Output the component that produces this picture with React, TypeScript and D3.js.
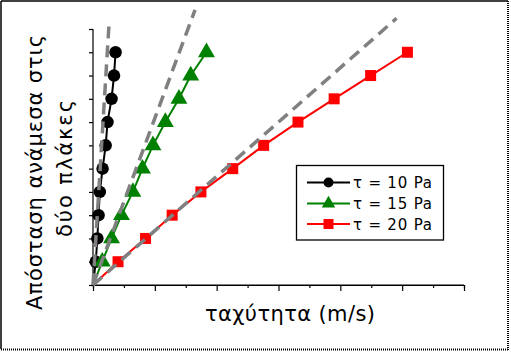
import { useEffect, useRef } from "react";
import * as d3 from "d3";

// distance levels (same for all three series), 0 = origin
const distances = [0, 1, 2, 3, 4, 5, 6, 7, 8, 9, 10];

// velocity for each stress
const speed10 = [0, 0.09, 0.14, 0.18, 0.22, 0.31, 0.41, 0.47, 0.6, 0.68, 0.73];
const speed15 = [0, 0.3, 0.6, 0.92, 1.29, 1.6, 1.94, 2.34, 2.78, 3.16, 3.67];
const speed20 = [0, 0.81, 1.7, 2.56, 3.49, 4.52, 5.52, 6.63, 7.8, 8.98, 10.17];

// gray dashed reference lines, from the origin to [x, y]
const refEnds: [number, number][] = [
  [0.527, 11.39],
  [3.3, 11.82],
  [9.82, 11.46],
];

const seriesLabels = ["τ = 10 Pa", "τ = 15 Pa", "τ = 20 Pa"];
const seriesColors = ["#000000", "#008000", "#ff0000"];
const seriesShapes = ["circle", "triangle", "square"];

const yTitleLines = ["Απόσταση ανάμεσα στις", "δύο πλάκες"];
const xTitle = "ταχύτητα  (m/s)";

const FONT = "'DejaVu Sans', sans-serif";

const App = () => {
  const svgRef = useRef<SVGSVGElement>(null);

  useEffect(() => {
    const svg = d3.select(svgRef.current);
    svg.selectAll("*").remove();

    const x = d3.scaleLinear().domain([0, 12]).range([93, 464]);
    const y = d3.scaleLinear().domain([0, 11]).range([285, 29]);

    // 1) outer frame
    svg.append("rect").attr("x", 0).attr("y", 0).attr("width", 511).attr("height", 352).attr("fill", "#fff");
    svg.append("line").attr("x1", 1).attr("y1", 1).attr("x2", 508).attr("y2", 1).attr("stroke", "#000").attr("stroke-width", 1.5);
    svg.append("line").attr("x1", 1).attr("y1", 1).attr("x2", 1).attr("y2", 349).attr("stroke", "#000").attr("stroke-width", 1.5);
    svg.append("line").attr("x1", 508).attr("y1", 1).attr("x2", 508).attr("y2", 350)
      .attr("stroke", "#000").attr("stroke-width", 2).attr("stroke-dasharray", "1 1");
    svg.append("line").attr("x1", 1).attr("y1", 349.5).attr("x2", 509).attr("y2", 349.5)
      .attr("stroke", "#000").attr("stroke-width", 2).attr("stroke-dasharray", "1 1");

    // 2) axes (no tick labels)
    const yAxis = d3.axisLeft(y).tickValues(d3.range(0, 12)).tickSize(4).tickFormat(() => "");
    const yg = svg.append("g").attr("transform", `translate(${x(0)},0)`).call(yAxis);
    yg.select(".domain").attr("d", `M-0,${y(11)}V${y(0)}`);

    const xMinor = d3.axisBottom(x).tickValues(d3.range(1, 13, 2)).tickSize(3).tickFormat(() => "");
    const xMajor = d3.axisBottom(x).tickValues(d3.range(0, 13, 2)).tickSize(6).tickFormat(() => "");
    svg.append("g").attr("transform", `translate(0,${y(0)})`).call(xMinor);
    const xg = svg.append("g").attr("transform", `translate(0,${y(0)})`).call(xMajor);
    xg.select(".domain").attr("d", `M${x(0)},0H${x(12)}`);
    svg.selectAll(".domain, .tick line").attr("stroke", "#000").attr("stroke-width", 1.2);

    // 3) series lines and markers
    const allSpeeds = [speed10, speed15, speed20];
    const line = d3
      .line<number>()
      .x((d) => x(d))
      .y((_, i) => y(distances[i]));

    const drawMarker = (g: any, shape: string, cx: number, cy: number, color: string, s: number) => {
      if (shape === "circle") {
        g.append("circle").attr("cx", cx).attr("cy", cy).attr("r", s / 2).attr("fill", color);
      } else if (shape === "triangle") {
        const sym = d3.symbol().type(d3.symbolTriangle).size(s * s * 0.55)();
        g.append("path").attr("d", sym).attr("transform", `translate(${cx},${cy})`).attr("fill", color);
      } else {
        g.append("rect").attr("x", cx - s / 2).attr("y", cy - s / 2).attr("width", s).attr("height", s).attr("fill", color);
      }
    };

    allSpeeds.forEach((speeds, k) => {
      svg.append("path").attr("d", line(speeds)!).attr("fill", "none")
        .attr("stroke", seriesColors[k]).attr("stroke-width", 2);
    });
    allSpeeds.forEach((speeds, k) => {
      const g = svg.append("g");
      speeds.forEach((v, i) => {
        if (i === 0) return;
        const size = k === 0 ? 12.5 : k === 1 ? 15 : 11;
        drawMarker(g, seriesShapes[k], x(v), y(distances[i]), seriesColors[k], size);
      });
    });

    // 4) dashed reference lines on top
    refEnds.forEach(([ex, ey]) => {
      svg.append("line")
        .attr("x1", x(0)).attr("y1", y(0))
        .attr("x2", x(ex)).attr("y2", y(ey))
        .attr("stroke", "#808080").attr("stroke-width", 3.5)
        .attr("stroke-dasharray", "12 7");
    });

    // 5) legend
    const lg = svg.append("g");
    lg.append("rect").attr("x", 296.5).attr("y", 165.5).attr("width", 147).attr("height", 74.5)
      .attr("fill", "#fff").attr("stroke", "#000").attr("stroke-width", 1.3);
    const rowY = [182.5, 203.5, 224];
    seriesLabels.forEach((label, k) => {
      lg.append("line").attr("x1", 307).attr("x2", 350).attr("y1", rowY[k]).attr("y2", rowY[k])
        .attr("stroke", seriesColors[k]).attr("stroke-width", 2);
      drawMarker(lg, seriesShapes[k], 328.5, rowY[k], seriesColors[k], k === 1 ? 12 : 10);
      lg.append("text").attr("x", 353).attr("y", rowY[k] + 5.5)
        .attr("font-family", FONT).attr("font-size", 15)
        .attr("textLength", 79).attr("lengthAdjust", "spacing")
        .text(label);
    });

    // 6) axis titles
    svg.append("text").attr("x", 290).attr("y", 321).attr("text-anchor", "middle")
      .attr("font-family", FONT).attr("font-size", 21)
      .attr("textLength", 170).attr("lengthAdjust", "spacing")
      .text(xTitle);

    const yCenter = [172.5, 168.5];
    const yBase = [42, 71.5];
    const yLen = [275, 137];
    yTitleLines.forEach((t, i) => {
      svg.append("text")
        .attr("transform", `translate(${yBase[i]},${yCenter[i]}) rotate(-90)`)
        .attr("text-anchor", "middle")
        .attr("font-family", FONT).attr("font-size", 21)
        .attr("textLength", yLen[i]).attr("lengthAdjust", "spacing")
        .text(t);
    });
  }, []);

  return (
    <svg
      ref={svgRef}
      width={511}
      height={352}
      style={{ position: "absolute", left: 0, top: 0 }}
    ></svg>
  );
};

export default App;
